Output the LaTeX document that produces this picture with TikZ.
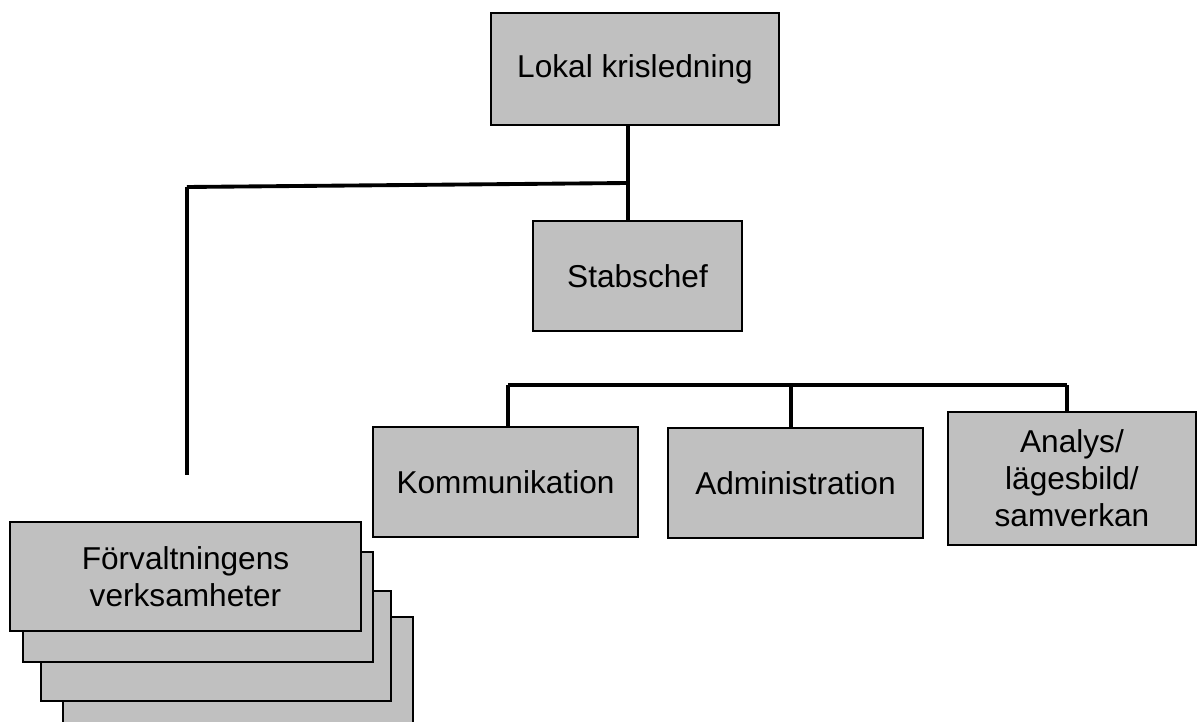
\documentclass[tikz,border=0pt]{standalone}
\usepackage{fontspec}
\setmainfont{Liberation Sans}
\usepackage{xcolor}
\usepackage{tikz}
\usetikzlibrary{
	matrix,arrows,shapes,positioning
}
\definecolor{boxgray}{RGB}{192,192,192}
\tikzset{
	box/.style={draw,fill=boxgray,line width=1.3pt,align=center,inner sep=0pt,
		font=\fontsize{18}{21}\selectfont},
	sz/.style 2 args={minimum width=#1*0.02cm,minimum height=#2*0.02cm},
	link/.style={line width=2.2pt}
}

\begin{document}
\begin{tikzpicture}[x=0.02cm,y=-0.02cm]
	\useasboundingbox (0,0) rectangle (1198,722);
	% stack behind
	\node[box,sz={350}{113}] (f4) at (238,673.5) {};
	\node[box,sz={350}{110}] (f3) at (216,646) {};
	\node[box,sz={350}{110}] (f2) at (198,607) {};
	\node[box,sz={351}{109}] (forv) at (185.5,576.5) {F\"orvaltningens\\verksamheter};
	%
	\node[box,sz={288}{112}] (lokal) at (635,69) {Lokal krisledning};
	\node[box,sz={209}{110}] (stab) at (637.5,276) {Stabschef};
	\node[box,sz={265}{110}] (komm) at (505.5,482) {Kommunikation};
	\node[box,line width=0.7pt,sz={255}{110}] (admin) at (795.5,483) {Administration};
	\node[box,sz={248}{133}] (analys) at (1072,478.5) {Analys/\\l\"agesbild/\\samverkan};
	%
	\coordinate (j) at (628,183);
	\coordinate (jl) at (187,187);
	\coordinate (vl) at (187,475);
	\coordinate (bl) at (508,385);
	\coordinate (bm) at (791,385);
	\coordinate (br) at (1067,385);
	%
	\path[link]
	(lokal.south -| j) edge (stab.north -| j)
	(j) edge (jl)
	(jl) edge (vl)
	(komm.north -| bl) edge (bl)
	(bl) edge (br)
	(admin.north -| bm) edge (bm)
	(analys.north -| br) edge (br);
\end{tikzpicture}
\end{document}
